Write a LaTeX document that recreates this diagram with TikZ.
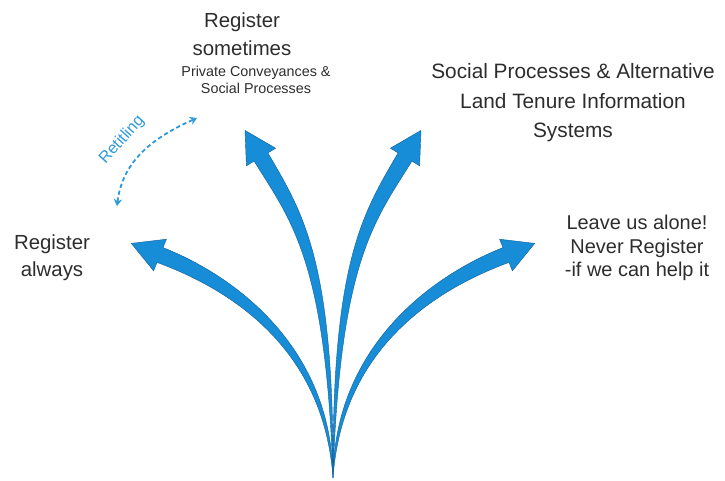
\documentclass[tikz,border=0pt]{standalone}
\usepackage{fontspec}
\setmainfont{Liberation Sans}
\usetikzlibrary{arrows.meta,positioning}
\definecolor{fanblue}{RGB}{22,141,214}
\definecolor{fanedge}{RGB}{16,96,156}
\definecolor{retblue}{RGB}{46,156,216}
\definecolor{txtgray}{RGB}{45,45,45}

\begin{document}
\begin{tikzpicture}[x=0.025cm,y=0.025cm]
\tikzstyle{every node}+=[inner sep=0pt, text=txtgray, align=center]
\tikzstyle{fan}=[fill=fanblue, draw=fanedge, line width=0.3pt]
\tikzstyle{retitle}=[retblue, dash pattern=on 3pt off 2pt, line width=1.3pt, {Stealth[length=5pt,width=6pt]}-{Stealth[length=5pt,width=6pt]}]
\useasboundingbox (0,0) rectangle (725,-481);
\coordinate (base) at (333,-478);
% the four arrows, left to right
\draw[fan] (base) .. controls (332,-350) and (238.6,-277.5) .. (163,-247.6) -- (166.4,-239.2) -- (131.3,-243.4) coordinate (tipL) -- (153.6,-270.8) -- (157,-262.4) .. controls (233.4,-290.5) and (324,-350) .. (base) -- cycle;
\draw[fan] (base) .. controls (334,-350) and (427.4,-277.5) .. (503,-247.6) -- (499.6,-239.2) -- (534.7,-243.4) coordinate (tipR) -- (512.4,-270.8) -- (509,-262.4) .. controls (432.6,-290.5) and (342,-350) .. (base) -- cycle;
\draw[fan] (base) .. controls (334,-260) and (303,-213.4) .. (267.9,-152.9) -- (275.6,-148.2) -- (245,-130.4) coordinate (tipTL) -- (246.4,-165.8) -- (254.1,-161.1) .. controls (291,-220.6) and (326,-260) .. (base) -- cycle;
\draw[fan] (base) .. controls (332,-260) and (363,-213.4) .. (398.1,-152.9) -- (390.4,-148.2) -- (421,-130.4) coordinate (tipTR) -- (419.6,-165.8) -- (411.9,-161.1) .. controls (375,-220.6) and (340,-260) .. (base) -- cycle;
% retitling
\coordinate (ret-a) at (117,-206);
\coordinate (ret-b) at (197,-118);
\draw[retitle] (ret-a) to[out=83,in=204] (ret-b);
\node (retlabel) at (122,-140) [rotate=48, text=retblue, font=\fontsize{11.5}{13}\selectfont] {Retitling};
% labels
\node (always) at (52,-258) [font=\fontsize{14.5}{19}\selectfont] {Register\\always};
\node (sometimes) at (242,-34) [font=\fontsize{14.5}{20}\selectfont] {Register\\sometimes};
\node (private) at (256,-80) [font=\fontsize{10.2}{12}\selectfont] {Private Conveyances \&\\Social Processes};
\node (social) at (573,-103) [font=\fontsize{14.8}{21}\selectfont] {Social Processes \& Alternative\\Land Tenure Information\\Systems};
\node (alone) at (637,-248) [font=\fontsize{14.2}{16.8}\selectfont] {Leave us alone!\\Never Register\\-if we can help it};
\end{tikzpicture}
\end{document}
